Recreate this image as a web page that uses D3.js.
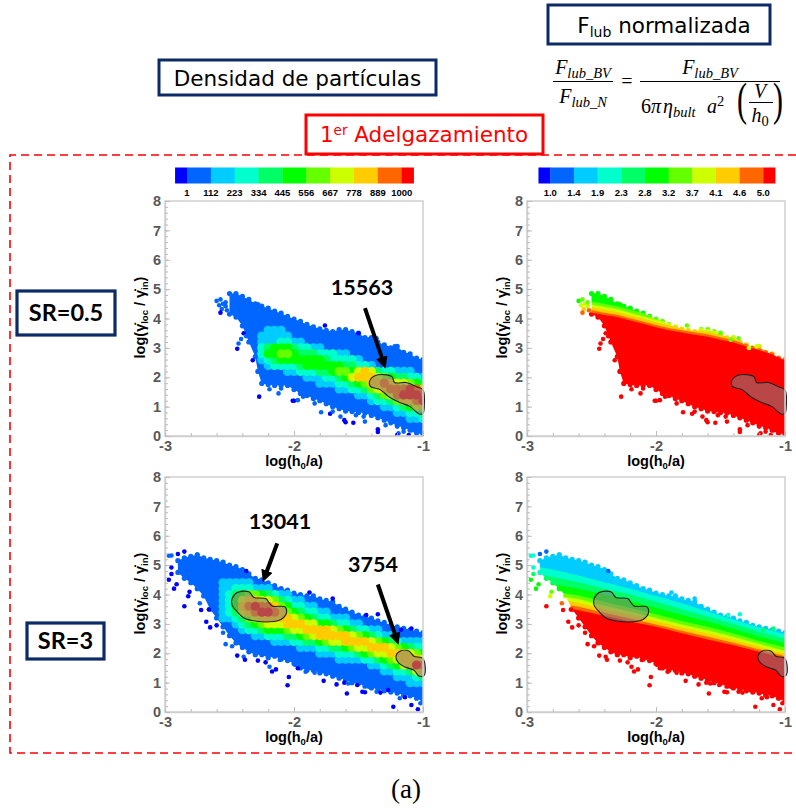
<!DOCTYPE html>
<html>
<head>
<meta charset="utf-8">
<script src="https://cdn.jsdelivr.net/npm/d3@7"></script>
<style>
  html, body { margin: 0; padding: 0; background: #fff; }
  svg { display: block; }
</style>
</head>
<body>
<svg id="chart" width="796" height="808"></svg>
<script>
// colour levels shared by both colour bars (level index -> colour)
const levelColors = ['#0000ff', '#0066ff', '#00ccff', '#00ffcc', '#00ff66', '#00ff00',
    '#66ff00', '#ccff00', '#ffcc00', '#ff6600', '#ff0000'];
const densityTicks = ['1', '112', '223', '334', '445', '556', '667', '778', '889', '1000'];
const forceTicks = ['1.0', '1.4', '1.9', '2.3', '2.8', '3.2', '3.7', '4.1', '4.6', '5.0'];

const xTicks = [-3, -2, -1];
const yTicks = [0, 1, 2, 3, 4, 5, 6, 7, 8];

// SR=0.5 cloud outline
const topEdgeX = [-2.5, -2.45, -2.4, -2.35, -2.3, -2.28, -2.25, -2.2, -2.15, -2.1, -2.05, -2, -1.95, -1.9, -1.85, -1.8,
    -1.75, -1.7, -1.65, -1.6, -1.55, -1.5, -1.45, -1.4, -1.35, -1.3, -1.25, -1.2, -1.15, -1.1, -1.05, -1];
const topEdgeUpper = [4.85, 4.85, 4.75, 4.65, 4.5, 4.47, 4.42, 4.35, 4.25, 4.18, 4.07, 3.98, 3.9, 3.8, 3.72, 3.65,
    3.6, 3.55, 3.62, 3.62, 3.55, 3.5, 3.35, 3.35, 3.2, 3.1, 3.0, 3.05, 2.85, 2.8, 2.65, 2.6];
const topEdgeLower = [4.15, 4.05, 3.75, 3.2, 2.7, 2.2, 1.79, 1.75, 1.72, 1.73, 1.72, 1.58, 1.45, 1.38, 1.28, 1.2,
    1.1, 1.0, 0.93, 0.85, 0.83, 0.8, 0.78, 0.7, 0.62, 0.54, 0.45, 0.36, 0.28, 0.2, 0.1, 0.05];

// SR=3 cloud outline
const bottomEdgeX = [-2.9, -2.85, -2.8, -2.75, -2.7, -2.65, -2.6, -2.55, -2.5, -2.45, -2.4, -2.35, -2.3, -2.25, -2.2, -2.15,
    -2.1, -2.05, -2, -1.95, -1.9, -1.85, -1.8, -1.75, -1.7, -1.65, -1.6, -1.55, -1.5, -1.45, -1.4, -1.35, -1.3, -1.25,
    -1.2, -1.15, -1.1, -1.05, -1];
const bottomEdgeUpper = [5.15, 5.25, 5.3, 5.35, 5.25, 5.2, 5.15, 5.1, 5.0, 4.95, 4.85, 4.7, 4.55, 4.5, 4.4, 4.3,
    4.2, 4.15, 4.05, 4.0, 3.95, 3.95, 3.85, 3.8, 3.75, 3.6, 3.5, 3.4, 3.3, 3.25, 3.2, 3.1, 3.05, 2.95,
    2.9, 2.85, 2.8, 2.75, 2.7];
const bottomEdgeLower = [4.75, 4.55, 4.4, 4.2, 3.95, 3.5, 3.2, 2.9, 2.6, 2.35, 2.2, 2.05, 1.95, 1.95, 1.85, 1.9,
    1.8, 1.75, 1.65, 1.5, 1.42, 1.42, 1.33, 1.3, 1.22, 1.15, 1.1, 1.0, 0.97, 0.88, 0.82, 0.78, 0.72, 0.68,
    0.65, 0.58, 0.55, 0.47, 0.35];

// density cells, one string per row, one hex digit per column (colour level)
const cellDx = 0.05;
const topCellStart = -2.25;
const topCellY = [3.6, 3.4, 3.2, 3.0, 2.8, 2.6, 2.4, 2.2, 2.0, 1.8, 1.6, 1.4, 1.2, 1.0, 0.8, 0.6];
const topCells = [
    '.222',
    '22222',
    '2223322',
    '3455543322',
    '35566544433322',
    '2345555555433332',
    '.23333455555544332',
    '....22333445665787433222',
    '.......2223345788876544332',
    '.........22233456889877654',
    '............22334678999a98',
    '...............2234679aaa9',
    '.................23346889a',
    '...................2234578',
    '.....................22334',
    '.......................223'
];
const bottomCellStart = -2.6;
const bottomCellY = [4.4, 4.2, 4.0, 3.8, 3.6, 3.4, 3.2, 3.0, 2.8, 2.6, 2.4, 2.2, 2.0, 1.8, 1.6, 1.4, 1.2, 1.0];
const bottomCells = [
    '.22222',
    '.22333222',
    '.23456654322',
    '.2357887764322',
    '.23589a998653322',
    '.234789aa986543322',
    '.22346788888765433222',
    '...23456777888775543322',
    '....2334555677888876543322',
    '......2233344567888887654322',
    '.........222334456778888765432222',
    '.............22233445677888765433',
    '................22233345677888765',
    '...................22223345678887',
    '........................2234578a9',
    '..........................2233478',
    '............................22234',
    '..............................222'
];

// force bands in the right-hand panels: top of each colour level along x
const topBandX = [-2.6, -2.5, -2.4, -2.3, -2.2, -2.1, -2, -1.9, -1.8, -1.7, -1.6, -1.5, -1.4, -1.3, -1.2, -1.1, -1];
const topBandLevels = [6, 7, 8, 9, 10];
const topBandTops = [
    [4.66, 4.58, 4.5, 4.42, 4.3, 4.18, 4.06, 3.95, 3.87, 3.8, 3.73, 3.63, 3.53, 3.38, 3.22, 3.04, 2.84],
    [4.56, 4.48, 4.4, 4.32, 4.2, 4.08, 3.96, 3.86, 3.78, 3.71, 3.64, 3.54, 3.44, 3.3, 3.15, 2.98, 2.78],
    [4.46, 4.38, 4.3, 4.22, 4.1, 3.99, 3.87, 3.77, 3.69, 3.62, 3.55, 3.45, 3.35, 3.22, 3.08, 2.92, 2.72],
    [4.36, 4.28, 4.2, 4.13, 4.01, 3.9, 3.78, 3.68, 3.6, 3.53, 3.46, 3.36, 3.26, 3.13, 3.0, 2.85, 2.66],
    [4.28, 4.2, 4.12, 4.05, 3.93, 3.82, 3.7, 3.6, 3.52, 3.45, 3.38, 3.28, 3.18, 3.05, 2.92, 2.78, 2.58]
];
const bottomBandX = [-3, -2.8, -2.6, -2.4, -2.2, -2, -1.8, -1.6, -1.4, -1.2, -1];
const bottomBandLevels = [3, 4, 5, 6, 7, 8, 9, 10];
const bottomBandTops = [
    [5.0, 4.85, 4.65, 4.42, 4.2, 3.95, 3.7, 3.42, 3.15, 2.88, 2.65],
    [4.75, 4.6, 4.42, 4.2, 4.0, 3.75, 3.5, 3.25, 3.0, 2.73, 2.5],
    [4.5, 4.35, 4.2, 4.0, 3.78, 3.55, 3.3, 3.08, 2.83, 2.57, 2.35],
    [4.25, 4.1, 3.97, 3.75, 3.55, 3.33, 3.1, 2.9, 2.67, 2.42, 2.2],
    [4.1, 3.98, 3.85, 3.62, 3.42, 3.2, 2.98, 2.78, 2.56, 2.32, 2.08],
    [3.98, 3.86, 3.72, 3.5, 3.3, 3.1, 2.88, 2.67, 2.46, 2.22, 1.98],
    [3.85, 3.72, 3.58, 3.38, 3.18, 2.98, 2.77, 2.56, 2.36, 2.13, 1.9],
    [3.75, 3.62, 3.46, 3.28, 3.08, 2.9, 2.68, 2.47, 2.27, 2.05, 1.82]
];

// stray points: [x, y, level on density panel, level on force panel]
const topStray = [
    [-2.6, 4.6, 1, 5], [-2.57, 4.65, 1, 6], [-2.58, 4.45, 1, 7], [-2.55, 4.5, 1, 7], [-2.53, 4.42, 1, 7],
    [-2.56, 4.32, 1, 8], [-2.53, 4.55, 1, 6], [-2.52, 4.28, 1, 9], [-2.57, 4.2, 0, 9],
    [-2.44, 2.97, 0, 10], [-2.43, 3.15, 1, 10], [-2.41, 3.3, 1, 10], [-2.39, 3.5, 0, 10], [-2.37, 3.4, 1, 10],
    [-2.32, 2.58, 0, 10], [-1.76, 3.76, 0, 6], [-1.5, 3.5, 0, 6],
    [-1.28, 3.0, 1, 7], [-1.22, 3.05, 1, 7], [-1.36, 3.33, 1, 6], [-1.42, 3.28, 1, 6],
    // fringe below the cloud
    [-2.27, 1.34, 0, 10], [-2.19, 1.59, 1, 10], [-2.12, 1.45, 1, 10], [-2.1, 1.62, 1, 10], [-2.01, 1.2, 0, 10],
    [-2.0, 1.2, 0, 10], [-1.97, 1.22, 1, 10], [-1.94, 1.45, 1, 10], [-1.93, 1.34, 1, 10], [-1.85, 1.28, 1, 10],
    [-1.84, 1.11, 1, 10], [-1.79, 0.81, 1, 10], [-1.72, 0.76, 0, 10], [-1.7, 0.83, 1, 10], [-1.64, 0.66, 1, 10],
    [-1.61, 0.54, 0, 10], [-1.6, 0.47, 0, 10], [-1.54, 0.45, 0, 10], [-1.52, 0.71, 1, 10], [-1.46, 0.66, 1, 10],
    [-1.45, 0.49, 1, 10], [-1.35, 0.23, 0, 10], [-1.35, 0.14, 0, 10], [-1.29, 0.37, 1, 10], [-1.2, 0.32, 1, 10],
    [-1.19, 0.09, 1, 10], [-1.15, 0.15, 1, 10], [-1.08, 0.2, 1, 10], [-1.2, 0.03, 0, 10], [-1.11, 0.03, 0, 10]
];
const bottomStray = [
    [-2.97, 5.32, 1, 3], [-2.95, 5.33, 1, 3], [-2.9, 5.38, 0, 1], [-2.85, 5.46, 0, 1], [-2.75, 5.36, 1, 2],
    [-2.97, 4.5, 0, 5], [-2.95, 4.92, 0, 3], [-2.93, 4.2, 0, 5], [-2.91, 4.35, 0, 5], [-2.95, 4.7, 0, 4],
    [-2.85, 3.6, 0, 10], [-2.82, 3.94, 0, 7], [-2.81, 4.09, 0, 6], [-2.73, 3.7, 1, 9], [-2.72, 3.47, 0, 10],
    [-2.66, 3.49, 0, 10], [-2.68, 3.07, 0, 10], [-2.65, 2.88, 0, 10], [-2.6, 2.95, 0, 10], [-2.55, 2.7, 1, 10],
    [-2.37, 4.8, 0, 1], [-1.88, 4.07, 0, 2], [-1.7, 3.86, 0, 2],
    [-1.35, 3.33, 0, 3], [-1.44, 3.3, 0, 3], [-1.09, 2.84, 0, 4], [-1.17, 2.8, 0, 4],
    // fringe below the cloud
    [-2.53, 2.31, 1, 10], [-2.48, 2.24, 1, 10], [-2.44, 1.92, 0, 10], [-2.39, 1.88, 1, 10], [-2.38, 1.78, 0, 10],
    [-2.34, 2.09, 1, 10], [-2.28, 1.75, 0, 10], [-2.22, 1.69, 0, 10], [-2.19, 1.54, 1, 10], [-2.17, 1.38, 0, 10],
    [-2.14, 1.45, 0, 10], [-2.11, 1.77, 1, 10], [-2.04, 1.19, 0, 10], [-2.05, 0.91, 0, 10], [-1.99, 1.6, 1, 10],
    [-1.97, 1.49, 0, 10], [-1.91, 1.37, 1, 10], [-1.84, 1.34, 1, 10], [-1.77, 1.06, 0, 10], [-1.67, 0.94, 0, 10],
    [-1.61, 1.0, 0, 10], [-1.59, 0.63, 0, 10], [-1.58, 0.97, 1, 10], [-1.51, 0.92, 0, 10], [-1.47, 0.69, 0, 10],
    [-1.45, 0.67, 0, 10], [-1.42, 0.86, 1, 10], [-1.36, 0.69, 1, 10], [-1.33, 0.66, 0, 10], [-1.27, 0.75, 0, 10],
    [-1.23, 0.18, 0, 10], [-1.2, 0.64, 1, 10], [-1.18, 0.47, 1, 10], [-1.14, 0.5, 0, 10], [-1.09, 0.58, 1, 10],
    [-1.09, 0.24, 0, 10], [-1.04, 0.09, 0, 10], [-1.02, 0.3, 1, 10]
];

// shaded regions
const topRegion = [[-1.41, 1.91], [-1.37, 2.06], [-1.28, 2.08], [-1.24, 2.02], [-1.22, 1.82], [-1.13, 1.82], [-1.05, 1.68],
    [-1.0, 1.57], [-0.99, 1.0], [-1.0, 0.77], [-1.03, 0.75], [-1.1, 1.0], [-1.18, 1.14], [-1.26, 1.32], [-1.33, 1.57], [-1.41, 1.7]];
const bottomRegionA = [[-2.48, 3.86], [-2.44, 4.07], [-2.35, 4.09], [-2.31, 3.9], [-2.22, 3.86], [-2.17, 3.61], [-2.07, 3.58],
    [-2.06, 3.35], [-2.1, 3.15], [-2.19, 3.07], [-2.29, 3.09], [-2.38, 3.18], [-2.44, 3.41], [-2.48, 3.64]];
const bottomRegionB = [[-1.21, 1.88], [-1.18, 2.07], [-1.11, 2.08], [-1.07, 1.9], [-1.0, 1.82], [-0.99, 1.25], [-1.03, 1.22],
    [-1.07, 1.42], [-1.14, 1.53], [-1.19, 1.67]];

const svg = d3.select('#chart');
const defs = svg.append('defs');
defs.append('filter').attr('id', 'soft')
    .attr('x', '-5%').attr('y', '-5%').attr('width', '110%').attr('height', '110%')
    .append('feGaussianBlur').attr('stdDeviation', 0.55);
defs.append('marker').attr('id', 'head')
    .attr('viewBox', '0 0 3 3').attr('refX', 1).attr('refY', 1.5)
    .attr('markerWidth', 3).attr('markerHeight', 3).attr('orient', 'auto')
    .append('path').attr('d', 'M0,0L3,1.5L0,3Z').attr('fill', '#000');

const SANS = '"Liberation Sans", Arial, sans-serif';
const SERIF = '"Liberation Serif", serif';
const PLOT_W = 258, PLOT_H = 235;
const DOT_R = 2.6;

// frame, ticks and labels of one panel
function drawAxes(g, x, y) {
    let left = x.range()[0], top = y.range()[1], bottom = y.range()[0], right = x.range()[1];

    g.append('rect').attr('x', left).attr('y', top)
        .attr('width', right - left).attr('height', bottom - top)
        .attr('fill', 'none').attr('stroke', '#cfcfcf').attr('stroke-width', 1.5);

    let xAxis = g.append('g').attr('transform', `translate(0,${bottom})`)
        .call(d3.axisBottom(x).tickValues(xTicks).tickSizeInner(-5).tickSizeOuter(0).tickPadding(5).tickFormat(d => String(d)));
    let yAxis = g.append('g').attr('transform', `translate(${left},0)`)
        .call(d3.axisLeft(y).tickValues(yTicks).tickSizeInner(-5).tickSizeOuter(0).tickPadding(4));
    // minor ticks every 0.2
    g.append('g').attr('transform', `translate(0,${bottom})`)
        .call(d3.axisBottom(x).tickValues(d3.range(-3, -0.99, 0.2)).tickSize(-3).tickFormat(''))
        .call(a => a.select('.domain').remove());
    g.append('g').attr('transform', `translate(${left},0)`)
        .call(d3.axisLeft(y).tickValues(d3.range(0, 8.01, 0.2)).tickSize(-3).tickFormat(''))
        .call(a => a.select('.domain').remove());

    g.selectAll('.tick line').attr('stroke', '#bdbdbd');
    g.selectAll('.domain').attr('stroke', '#cfcfcf').attr('stroke-width', 1.5);
    [xAxis, yAxis].forEach(a => a.selectAll('text')
        .attr('font-family', SANS).attr('font-weight', 'bold').attr('font-size', 14.5).attr('fill', '#595959'));

    let xLabel = g.append('text')
        .attr('x', (left + right) / 2).attr('y', bottom + 30)
        .attr('text-anchor', 'middle')
        .attr('font-family', SANS).attr('font-weight', 'bold').attr('font-size', 14.5);
    xLabel.append('tspan').text('log(h');
    xLabel.append('tspan').text('0').attr('font-size', 9.5).attr('dy', 3);
    xLabel.append('tspan').text('/a)').attr('dy', -3);

    let yLabel = g.append('text')
        .attr('transform', `translate(${left - 20},${(top + bottom) / 2 - 1}) rotate(-90)`)
        .attr('text-anchor', 'middle')
        .attr('font-family', SANS).attr('font-weight', 'bold').attr('font-size', 14.5);
    yLabel.append('tspan').text('log(\u03b3\u0307');
    yLabel.append('tspan').text('loc').attr('font-size', 9.5).attr('dy', 3);
    yLabel.append('tspan').text(' / \u03b3\u0307').attr('dy', -3);
    yLabel.append('tspan').text('in').attr('font-size', 9.5).attr('dy', 3);
    yLabel.append('tspan').text(')').attr('dy', -3);
}

// clip = filled outline plus a dot on every outline vertex, so the edge looks scalloped
function makeCloudClip(id, x, y, edgeX, upper, lower) {
    let clip = defs.append('clipPath').attr('id', id);
    let area = d3.area().x(d => x(edgeX[d])).y0(d => y(lower[d])).y1(d => y(upper[d]));
    clip.append('path').attr('d', area(d3.range(edgeX.length)));
    edgeX.forEach((v, i) => {
        clip.append('circle').attr('cx', x(v)).attr('cy', y(upper[i])).attr('r', DOT_R);
        clip.append('circle').attr('cx', x(v)).attr('cy', y(lower[i])).attr('r', DOT_R);
    });
}

function drawCells(g, x, y, rowY, rows, start) {
    let cells = [];
    rows.forEach((row, r) => {
        row.split('').forEach((ch, c) => {
            if (ch !== '.') cells.push({x: start + c * cellDx, y: rowY[r], level: parseInt(ch, 16)});
        });
    });
    cells.sort((a, b) => a.level - b.level);
    g.selectAll('circle.cell').data(cells).join('circle')
        .attr('class', 'cell')
        .attr('cx', d => x(d.x)).attr('cy', d => y(d.y)).attr('r', 4.6)
        .attr('fill', d => levelColors[d.level]);
}

function drawBands(g, x, y, bandX, levels, tops) {
    levels.forEach((level, i) => {
        let area = d3.area().x(d => x(bandX[d])).y0(y(0)).y1(d => y(tops[i][d]));
        g.append('path').attr('d', area(d3.range(bandX.length))).attr('fill', levelColors[level]);
    });
}

function drawStray(g, x, y, stray, levelColumn) {
    g.selectAll('circle.stray').data(stray).join('circle')
        .attr('class', 'stray')
        .attr('cx', d => x(d[0])).attr('cy', d => y(d[1])).attr('r', 2.3)
        .attr('fill', d => levelColors[d[levelColumn]]);
}

function drawRegion(g, x, y, region) {
    let line = d3.line().x(d => x(d[0])).y(d => y(d[1])).curve(d3.curveCatmullRomClosed.alpha(0.5));
    g.append('path').attr('d', line(region))
        .attr('fill', '#808080').attr('fill-opacity', 0.55)
        .attr('stroke', '#222').attr('stroke-width', 1.1);
}

function drawArrow(g, x, y, a) {
    g.append('line')
        .attr('x1', x(a[0])).attr('y1', y(a[1])).attr('x2', x(a[2])).attr('y2', y(a[3]))
        .attr('stroke', '#000').attr('stroke-width', 4)
        .attr('marker-end', 'url(#head)');
}

function drawPanel(id, left, top, edgeX, upper, lower, paint, stray, levelColumn, regions) {
    let x = d3.scaleLinear().domain([-3, -1]).range([left, left + PLOT_W]);
    let y = d3.scaleLinear().domain([0, 8]).range([top + PLOT_H, top]);
    let g = svg.append('g');

    defs.append('clipPath').attr('id', id + 'plot').append('rect')
        .attr('x', left).attr('y', top).attr('width', PLOT_W).attr('height', PLOT_H);
    makeCloudClip(id + 'cloud', x, y, edgeX, upper, lower);

    let soft = g.append('g').attr('filter', 'url(#soft)');
    let inPlot = soft.append('g').attr('clip-path', `url(#${id}plot)`);
    let cloud = inPlot.append('g').attr('clip-path', `url(#${id}cloud)`);
    paint(cloud, x, y);
    drawStray(inPlot.append('g'), x, y, stray, levelColumn);
    regions.forEach(r => drawRegion(soft, x, y, r));
    drawAxes(g, x, y);
    return {g, x, y};
}

function fillRect(g, x, y, level) {
    g.append('rect').attr('x', x.range()[0]).attr('y', y.range()[1])
        .attr('width', PLOT_W).attr('height', PLOT_H).attr('fill', levelColors[level]);
}

const leftX = 165, rightX = 527, topY = 201, bottomY = 477;

// draw the four panels
let topDensity = drawPanel('a', leftX, topY, topEdgeX, topEdgeUpper, topEdgeLower, (g, x, y) => {
    fillRect(g, x, y, 1);
    drawCells(g, x, y, topCellY, topCells, topCellStart);
}, topStray, 2, [topRegion]);

drawPanel('b', rightX, topY, topEdgeX, topEdgeUpper, topEdgeLower, (g, x, y) => {
    fillRect(g, x, y, 5);
    drawBands(g, x, y, topBandX, topBandLevels, topBandTops);
}, topStray, 3, [topRegion]);

let bottomDensity = drawPanel('c', leftX, bottomY, bottomEdgeX, bottomEdgeUpper, bottomEdgeLower, (g, x, y) => {
    fillRect(g, x, y, 1);
    drawCells(g, x, y, bottomCellY, bottomCells, bottomCellStart);
}, bottomStray, 2, [bottomRegionA, bottomRegionB]);

drawPanel('d', rightX, bottomY, bottomEdgeX, bottomEdgeUpper, bottomEdgeLower, (g, x, y) => {
    fillRect(g, x, y, 2);
    drawBands(g, x, y, bottomBandX, bottomBandLevels, bottomBandTops);
}, bottomStray, 3, [bottomRegionA, bottomRegionB]);

// arrows and particle counts on the density panels
drawArrow(topDensity.g, topDensity.x, topDensity.y, [-1.45, 4.35, -1.31, 2.55]);
drawArrow(bottomDensity.g, bottomDensity.x, bottomDensity.y, [-2.13, 5.74, -2.22, 4.68]);
drawArrow(bottomDensity.g, bottomDensity.x, bottomDensity.y, [-1.35, 4.34, -1.21, 2.55]);

const countLabels = ['15563', '13041', '3754'];
const countX = [362, 280, 373];
const countY = [295, 529, 572];
countLabels.forEach((t, i) => {
    svg.append('text').text(t)
        .attr('x', countX[i]).attr('y', countY[i]).attr('text-anchor', 'middle')
        .attr('font-family', 'Lato, sans-serif').attr('font-weight', 'bold').attr('font-size', 21.5);
});

// colour bars
function drawColorBar(x0, x9, ticks) {
    let pos = d3.scaleLinear().domain([0, 9]).range([x0, x9]);
    levelColors.forEach((c, i) => {
        let from = i === 0 ? -0.5 : i - 1;
        let to = i === 10 ? 9.5 : i;
        svg.append('rect').attr('x', pos(from)).attr('y', 167.5)
            .attr('width', pos(to) - pos(from) + 0.3).attr('height', 16).attr('fill', c);
    });
    svg.selectAll(null).data(ticks).join('text')
        .attr('x', (d, i) => pos(i)).attr('y', 196).attr('text-anchor', 'middle')
        .attr('font-family', SANS).attr('font-weight', 'bold').attr('font-size', 9.5)
        .text(d => d);
}
drawColorBar(187, 401.7, densityTicks);
drawColorBar(550.3, 763.3, forceTicks);

// dashed frame round the panels
svg.append('path').attr('d', 'M796,155H10V753H796')
    .attr('fill', 'none').attr('stroke', '#ff0000').attr('stroke-width', 1.6).attr('stroke-dasharray', '8,5');

// labelled boxes
function box(x, y, w, h, stroke, width) {
    svg.append('rect').attr('x', x).attr('y', y).attr('width', w).attr('height', h)
        .attr('fill', '#fff').attr('stroke', stroke).attr('stroke-width', width);
}
const NAVY = '#0c2a66';
box(159, 60, 277, 35, NAVY, 3);
svg.append('text').text('Densidad de partículas')
    .attr('x', 297.5).attr('y', 85.5).attr('text-anchor', 'middle')
    .attr('font-family', '"DejaVu Sans", sans-serif').attr('font-size', 21.5);

box(548, 5, 222, 39, NAVY, 3);
let flub = svg.append('text').attr('x', 664).attr('y', 33).attr('text-anchor', 'middle')
    .attr('font-family', '"DejaVu Sans", sans-serif').attr('font-size', 21.5);
flub.append('tspan').text('F');
flub.append('tspan').text('lub').attr('font-size', 14).attr('dy', 4);
flub.append('tspan').text(' normalizada').attr('dy', -4);

box(306, 115, 237, 39, '#ff0000', 3);
let thin = svg.append('text').attr('x', 424).attr('y', 142).attr('text-anchor', 'middle')
    .attr('font-family', '"DejaVu Sans", sans-serif').attr('font-size', 21.5).attr('fill', '#ff0000');
thin.append('tspan').text('1');
thin.append('tspan').text('er').attr('font-size', 13.5).attr('dy', -7);
thin.append('tspan').text(' Adelgazamiento').attr('dy', 7);

const srLabels = ['SR=0.5', 'SR=3'];
const srBox = [[17, 291, 98, 44], [27, 623, 77, 36]];
srLabels.forEach((t, i) => {
    let b = srBox[i];
    box(b[0], b[1], b[2], b[3], NAVY, 3.2);
    svg.append('text').text(t)
        .attr('x', b[0] + b[2] / 2).attr('y', b[1] + b[3] / 2 + 8).attr('text-anchor', 'middle')
        .attr('font-family', 'Lato, sans-serif').attr('font-weight', 'bold').attr('font-size', 23.5);
});

// lubrication force formula
function math(x, y, parts, anchor) {
    let t = svg.append('text').attr('x', x).attr('y', y).attr('text-anchor', anchor || 'middle')
        .attr('font-family', SERIF).attr('font-style', 'italic').attr('font-size', 20);
    let shift = 0;
    parts.forEach(p => {
        let s = t.append('tspan').text(p[0]);
        let want = p[1] === 'sub' ? 4 : p[1] === 'sup' ? -7 : 0;
        if (want !== shift) s.attr('dy', want - shift);
        shift = want;
        if (p[1]) s.attr('font-size', 14.5);
        if (p[2]) s.attr('font-style', 'normal');
    });
}
function rule(x1, x2, y) {
    svg.append('line').attr('x1', x1).attr('x2', x2).attr('y1', y).attr('y2', y)
        .attr('stroke', '#000').attr('stroke-width', 1);
}
// tall thin bracket: a small glyph stretched vertically
function bigParen(t, x) {
    svg.append('text').text(t)
        .attr('transform', `translate(${x},115) scale(1,1.55)`)
        .attr('text-anchor', 'middle')
        .attr('font-family', SERIF).attr('font-size', 30);
}
math(583, 74, [['F'], ['lub_BV', 'sub']]);
rule(553, 613, 81.5);
math(583, 103, [['F'], ['lub_N', 'sub']]);
math(627, 88, [['=', null, true]]);
rule(640, 780, 81.5);
math(710, 74, [['F'], ['lub_BV', 'sub']]);
math(641, 113, [['6', null, true], ['π']], 'start');
math(663, 113, [['η'], ['bult', 'sub']], 'start');
math(707, 113, [['a'], ['2', 'sup', true]], 'start');
math(760, 98, [['V']]);
rule(749, 773, 102.5);
math(760, 122, [['h'], ['0', 'sub', true]]);
bigParen('(', 742);
bigParen(')', 778);

svg.append('text').text('(a)').attr('x', 406).attr('y', 798).attr('text-anchor', 'middle')
    .attr('font-family', SERIF).attr('font-size', 27);
</script>
</body>
</html>
